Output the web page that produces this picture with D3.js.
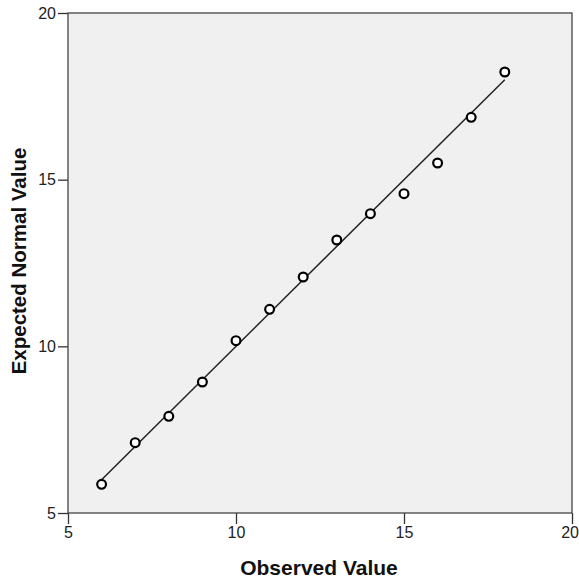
<!DOCTYPE html>
<html>
<head>
<meta charset="utf-8">
<script src="https://cdn.jsdelivr.net/npm/d3@7"></script>
<style>
  html, body { margin: 0; padding: 0; background: #fff; }
  svg { display: block; }
</style>
</head>
<body>
<svg id="chart" width="579" height="581"></svg>
<script>
// Data
const observed = [6, 7, 8, 9, 10, 11, 12, 13, 14, 15, 16, 17, 18];
const expected = [5.86, 7.11, 7.90, 8.93, 10.17, 11.11, 12.08, 13.19, 13.98, 14.58, 15.50, 16.87, 18.23];
const refLineX = [6, 18];        // reference line y = x
const xTicks = [5, 10, 15, 20];
const yTicks = [5, 10, 15, 20];
const xTitle = "Observed Value";
const yTitle = "Expected Normal Value";

const svg = d3.select("#chart");
const font = "Arial, 'Liberation Sans', sans-serif";

const x = d3.scaleLinear().domain([5, 20]).range([68, 572]);
const y = d3.scaleLinear().domain([5, 20]).range([513, 13]);

// plot background
svg.append("rect")
  .attr("x", x(5)).attr("y", y(20))
  .attr("width", x(20) - x(5)).attr("height", y(5) - y(20))
  .attr("fill", "#f0f0f0");

// axes
const xAxis = svg.append("g")
  .attr("transform", `translate(0,${y(5)})`)
  .call(d3.axisBottom(x).tickValues(xTicks).tickSize(11).tickPadding(3).tickFormat(d3.format("d")));
const yAxis = svg.append("g")
  .attr("transform", `translate(${x(5)},0)`)
  .call(d3.axisLeft(y).tickValues(yTicks).tickSize(10).tickPadding(2).tickFormat(d3.format("d")));

[xAxis, yAxis].forEach(g => {
  g.select(".domain").remove();
  g.selectAll(".tick line").attr("stroke", "#333").attr("stroke-width", 1.3);
  g.selectAll(".tick text").attr("fill", "#222").style("font-family", font).style("font-size", "16px");
});
// keep the last x tick label inside the page
xAxis.selectAll(".tick text").filter(d => d === xTicks[xTicks.length - 1])
  .attr("text-anchor", "end").attr("x", 6.5);

// frame
svg.append("rect")
  .attr("x", x(5)).attr("y", y(20))
  .attr("width", x(20) - x(5)).attr("height", y(5) - y(20))
  .attr("fill", "none").attr("stroke", "#444").attr("stroke-width", 1.3);

// reference line
svg.append("line")
  .attr("x1", x(refLineX[0])).attr("y1", y(refLineX[0]))
  .attr("x2", x(refLineX[1])).attr("y2", y(refLineX[1]))
  .attr("stroke", "#222").attr("stroke-width", 1.5);

// points
svg.append("g").selectAll("circle")
  .data(observed.map((o, i) => [o, expected[i]]))
  .join("circle")
  .attr("cx", d => x(d[0])).attr("cy", d => y(d[1]))
  .attr("r", 4.4)
  .attr("fill", "#fff")
  .attr("stroke", "#000").attr("stroke-width", 2.2);

// titles
svg.append("text")
  .attr("x", 319).attr("y", 575)
  .attr("text-anchor", "middle")
  .style("font-family", font).style("font-weight", "bold").style("font-size", "21px")
  .attr("fill", "#111")
  .text(xTitle);

svg.append("text")
  .attr("transform", "translate(26,261) rotate(-90)")
  .attr("text-anchor", "middle")
  .style("font-family", font).style("font-weight", "bold").style("font-size", "20.5px")
  .attr("fill", "#111")
  .text(yTitle);
</script>
</body>
</html>
